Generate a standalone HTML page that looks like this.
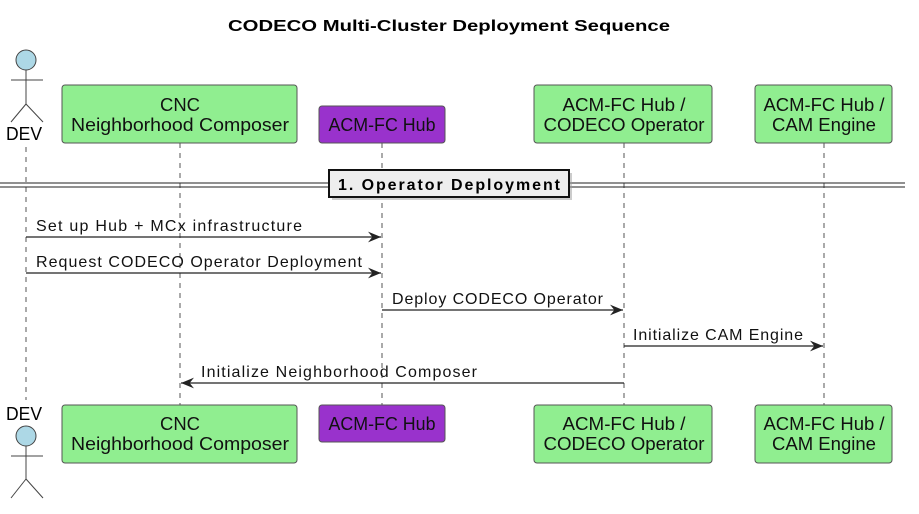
<!DOCTYPE html>
<html><head><meta charset="utf-8"><style>
html,body{margin:0;padding:0;background:#fff;}
svg{display:block;font-family:"Liberation Sans",sans-serif;}
</style></head><body>
<svg width="919" height="514" viewBox="0 0 919 514" xmlns="http://www.w3.org/2000/svg">
<defs>
<marker id="ah" viewBox="0 0 12 10" refX="12" refY="5" markerWidth="13" markerHeight="11" markerUnits="userSpaceOnUse" orient="auto">
<path d="M0,0 L12,5 L0,10 L4,5 Z" fill="#222"/>
</marker>
</defs>
<text x="449" y="31" text-anchor="middle" font-weight="bold" font-size="16" textLength="442" lengthAdjust="spacingAndGlyphs">CODECO Multi-Cluster Deployment Sequence</text>

<g stroke="#555" stroke-width="1" stroke-dasharray="5,5">
<line x1="26" y1="147" x2="26" y2="400"/>
<line x1="180" y1="143" x2="180" y2="405"/>
<line x1="382" y1="143" x2="382" y2="405"/>
<line x1="624" y1="143" x2="624" y2="405"/>
<line x1="824" y1="143" x2="824" y2="405"/>
</g>

<g stroke="#444" stroke-width="1" fill="none">
<circle cx="26" cy="60" r="10" fill="#add8e6"/>
<line x1="26" y1="70" x2="26" y2="104"/>
<line x1="11" y1="80" x2="43" y2="80"/>
<line x1="26" y1="104" x2="11" y2="122"/>
<line x1="26" y1="104" x2="43" y2="122"/>
</g>
<text x="24" y="140" text-anchor="middle" font-size="18" textLength="36" lengthAdjust="spacingAndGlyphs">DEV</text>
<text x="24" y="420" text-anchor="middle" font-size="18" textLength="36" lengthAdjust="spacingAndGlyphs">DEV</text>
<g stroke="#444" stroke-width="1" fill="none">
<circle cx="26" cy="436" r="10" fill="#add8e6"/>
<line x1="26" y1="446" x2="26" y2="479"/>
<line x1="11" y1="456" x2="43" y2="456"/>
<line x1="26" y1="479" x2="11" y2="498"/>
<line x1="26" y1="479" x2="43" y2="498"/>
</g>

<g font-size="18" text-anchor="middle" fill="#111">
<rect x="62" y="85" width="235" height="58" rx="3" fill="#90ee90" stroke="#555"/>
<text x="180" y="111" textLength="40" lengthAdjust="spacingAndGlyphs">CNC</text><text x="180" y="131" textLength="218" lengthAdjust="spacingAndGlyphs">Neighborhood Composer</text>
<rect x="319" y="106" width="126" height="37" rx="3" fill="#9932cc" stroke="#555"/>
<text x="382" y="131" textLength="107" lengthAdjust="spacingAndGlyphs">ACM-FC Hub</text>
<rect x="534" y="85" width="178" height="58" rx="3" fill="#90ee90" stroke="#555"/>
<text x="624" y="111" textLength="123" lengthAdjust="spacingAndGlyphs">ACM-FC Hub /</text><text x="624" y="131" textLength="161" lengthAdjust="spacingAndGlyphs">CODECO Operator</text>
<rect x="755" y="85" width="137" height="58" rx="3" fill="#90ee90" stroke="#555"/>
<text x="824" y="111" textLength="121" lengthAdjust="spacingAndGlyphs">ACM-FC Hub /</text><text x="824" y="131" textLength="104" lengthAdjust="spacingAndGlyphs">CAM Engine</text>

<rect x="62" y="405" width="235" height="58" rx="3" fill="#90ee90" stroke="#555"/>
<text x="180" y="430" textLength="40" lengthAdjust="spacingAndGlyphs">CNC</text><text x="180" y="450" textLength="218" lengthAdjust="spacingAndGlyphs">Neighborhood Composer</text>
<rect x="319" y="405" width="126" height="37" rx="3" fill="#9932cc" stroke="#555"/>
<text x="382" y="430" textLength="107" lengthAdjust="spacingAndGlyphs">ACM-FC Hub</text>
<rect x="534" y="405" width="178" height="58" rx="3" fill="#90ee90" stroke="#555"/>
<text x="624" y="430" textLength="123" lengthAdjust="spacingAndGlyphs">ACM-FC Hub /</text><text x="624" y="450" textLength="161" lengthAdjust="spacingAndGlyphs">CODECO Operator</text>
<rect x="755" y="405" width="137" height="58" rx="3" fill="#90ee90" stroke="#555"/>
<text x="824" y="430" textLength="121" lengthAdjust="spacingAndGlyphs">ACM-FC Hub /</text><text x="824" y="450" textLength="104" lengthAdjust="spacingAndGlyphs">CAM Engine</text>
</g>

<line x1="0" y1="183" x2="905" y2="183" stroke="#222"/>
<line x1="0" y1="187" x2="905" y2="187" stroke="#222"/>
<rect x="332" y="173" width="240" height="27" fill="#999" opacity="0.5"/>
<rect x="329" y="170" width="240" height="27" fill="#eee" stroke="#111" stroke-width="2"/>
<text x="449" y="190" text-anchor="middle" font-size="16" font-weight="bold" textLength="222" lengthAdjust="spacing">1. Operator Deployment</text>

<g stroke="#222" stroke-width="1.2" marker-end="url(#ah)">
<line x1="26" y1="237" x2="381" y2="237"/>
<line x1="26" y1="273" x2="381" y2="273"/>
<line x1="382" y1="310" x2="623" y2="310"/>
<line x1="624" y1="346" x2="823" y2="346"/>
<line x1="624" y1="383" x2="181" y2="383"/>
</g>
<g font-size="16" fill="#111">
<text x="36" y="231" textLength="266" lengthAdjust="spacing">Set up Hub + MCx infrastructure</text>
<text x="36" y="267" textLength="326" lengthAdjust="spacing">Request CODECO Operator Deployment</text>
<text x="392" y="304" textLength="211" lengthAdjust="spacing">Deploy CODECO Operator</text>
<text x="633" y="340" textLength="170" lengthAdjust="spacing">Initialize CAM Engine</text>
<text x="201" y="377" textLength="276" lengthAdjust="spacing">Initialize Neighborhood Composer</text>
</g>
</svg>
</body></html>
